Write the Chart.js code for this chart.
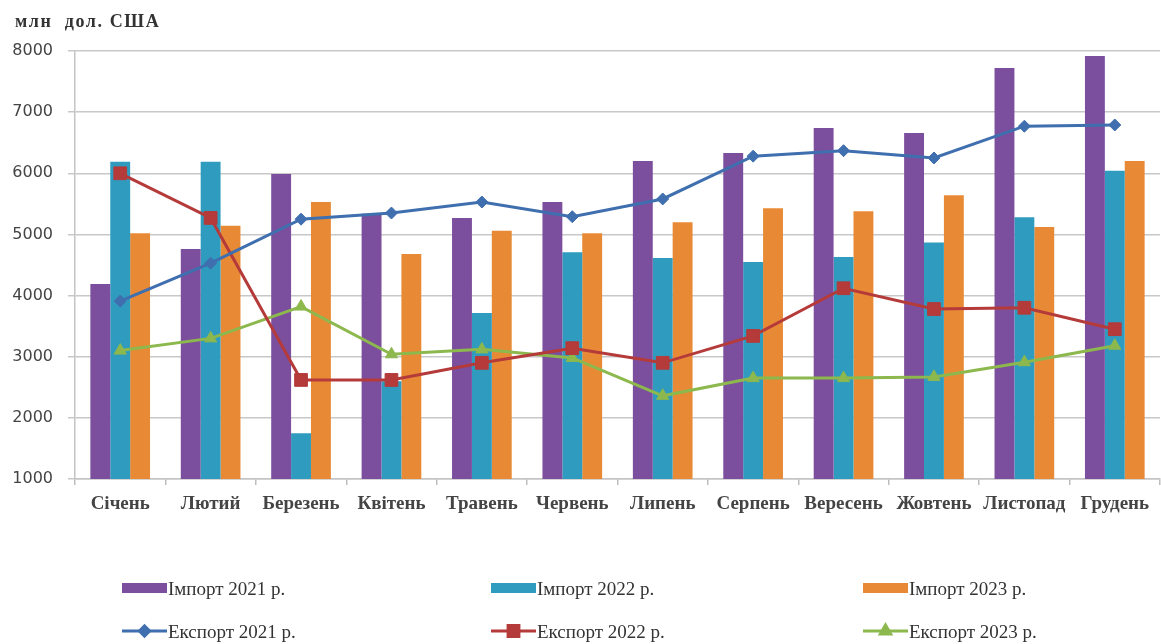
<!DOCTYPE html>
<html>
<head>
<meta charset="utf-8">
<script src="https://cdn.jsdelivr.net/npm/chart.js@4/dist/chart.umd.min.js"></script>
<style>
  html, body { margin: 0; padding: 0; background: #fff; overflow: hidden; width: 1161px; height: 644px; }
  #wrap { position: relative; width: 1170px; height: 644px; }
  #title { position: absolute; left: 15px; top: 11px; font: bold 18px "Liberation Serif", serif; color: #333; letter-spacing: 1.6px; white-space: pre; }
</style>
</head>
<body>
<div id="wrap">
  <canvas id="c" width="1170" height="644"></canvas>
  <div id="title">млн  дол. США</div>
</div>
<script>
const months = ["Січень","Лютий","Березень","Квітень","Травень","Червень","Липень","Серпень","Вересень","Жовтень","Листопад","Грудень"];
const yTicks = [1000,2000,3000,4000,5000,6000,7000,8000];

const import2021 = [4190,4760,5990,5340,5270,5530,6200,6330,6740,6660,7720,7920];
const import2022 = [6190,6190,1750,2600,3715,4710,4615,4550,4630,4870,5280,6040];
const import2023 = [5020,5140,5530,4680,5060,5020,5200,5430,5380,5640,5120,6200];
const export2021 = [3910,4530,5250,5350,5530,5290,5580,6280,6370,6250,6770,6790];
const export2022 = [6000,5270,2620,2620,2900,3140,2900,3340,4120,3780,3800,3450];
const export2023 = [3100,3300,3820,3040,3120,2980,2360,2650,2650,2670,2910,3180];

const seriesNames = ["Імпорт 2021 р.","Імпорт 2022 р.","Імпорт 2023 р.","Експорт 2021 р.","Експорт 2022 р.","Експорт 2023 р."];
const colors = ["#7b4f9d","#2f9cbf","#e88a35","#3f6fae","#b53a3a","#8cb84d"];

const barDs = (label, data, color) => ({
  type: 'bar', label, data, backgroundColor: color, borderWidth: 0,
  categoryPercentage: 0.66, barPercentage: 1.0, order: 2
});
const lineDs = (label, data, color, style, r) => ({
  type: 'line', label, data, borderColor: color, backgroundColor: color,
  borderWidth: 3, pointStyle: style, pointRadius: r, pointHoverRadius: r,
  pointBorderWidth: 1, pointBorderColor: color, tension: 0, order: 1
});

const legendPlugin = {
  id: 'customLegend',
  afterDraw(chart) {
    const ctx = chart.ctx;
    const cols = [122, 491, 863];
    const rows = [588, 631];
    ctx.save();
    chart.data.datasets.forEach((ds, i) => {
      const col = i % 3, row = Math.floor(i / 3);
      const x = cols[col], y = rows[row];
      if (ds.type === 'bar') {
        ctx.fillStyle = ds.backgroundColor;
        ctx.fillRect(x, y - 5, 45, 10);
      } else {
        ctx.strokeStyle = ds.borderColor;
        ctx.lineWidth = 3;
        ctx.beginPath(); ctx.moveTo(x, y); ctx.lineTo(x + 45, y); ctx.stroke();
        ctx.fillStyle = ds.borderColor;
        Chart.helpers.drawPoint(ctx, {pointStyle: ds.pointStyle, radius: ds.pointRadius * 0.85, borderWidth: 1}, x + 22.5, y);
      }
      ctx.fillStyle = '#333';
      ctx.font = '19px "Liberation Serif", serif';
      ctx.textBaseline = 'middle';
      ctx.textAlign = 'left';
      ctx.fillText(ds.label, x + 46, y + 2);
    });
    ctx.restore();
  }
};

new Chart(document.getElementById('c'), {
  data: {
    labels: months,
    datasets: [
      barDs(seriesNames[0], import2021, colors[0]),
      barDs(seriesNames[1], import2022, colors[1]),
      barDs(seriesNames[2], import2023, colors[2]),
      lineDs(seriesNames[3], export2021, colors[3], 'rectRot', 6),
      lineDs(seriesNames[4], export2022, colors[4], 'rect', 9),
      lineDs(seriesNames[5], export2023, colors[5], 'triangle', 7)
    ]
  },
  options: {
    responsive: false,
    animation: false,
    devicePixelRatio: 1,
    layout: { padding: { top: 51, left: 0, right: 4, bottom: 0 } },
    plugins: { legend: { display: false }, tooltip: { enabled: false }, title: { display: false } },
    scales: {
      x: {
        type: 'category',
        offset: true,
        grid: { display: true, drawOnChartArea: false, offset: true, tickLength: 6, color: '#bdbdbd', lineWidth: 1.5 },
        border: { display: true, color: '#c4c4c4', width: 1.5 },
        ticks: { color: '#444', font: { family: '"Liberation Serif", serif', size: 19, weight: 'bold' }, padding: 8, maxRotation: 0, autoSkip: false },
        afterFit(s) { s.height = 165; }
      },
      y: {
        min: 1000, max: 8000,
        afterBuildTicks(s) { s.ticks = yTicks.map(v => ({ value: v })); },
        grid: { color: '#c8c8c8', lineWidth: 1.5, tickLength: 7 },
        border: { display: true, color: '#c4c4c4', width: 1.5 },
        ticks: { color: '#444', font: { family: '"DejaVu Sans", sans-serif', size: 16 }, padding: 15, callback: v => String(v) },
        afterFit(s) { s.width = 75; }
      }
    }
  },
  plugins: [legendPlugin]
});
</script>
</body>
</html>
